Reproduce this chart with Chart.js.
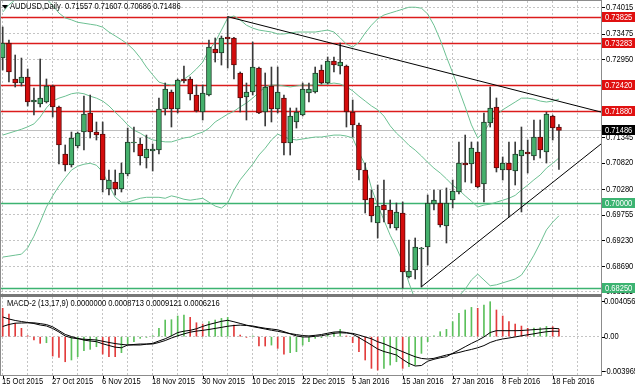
<!DOCTYPE html>
<html>
<head>
<meta charset="utf-8">
<script src="https://cdn.jsdelivr.net/npm/chart.js@4.4.0/dist/chart.umd.min.js"></script>
<style>
    html, body { margin: 0; padding: 0; background: #fff; }
    #wrap { position: relative; width: 635px; height: 391px; overflow: hidden; background: #fff; }
    #wrap canvas { position: absolute; left: 0; }
    #priceChart { top: 0; }
    #macdChart { top: 296px; }
</style>
</head>
<body>
<div id="wrap">
    <canvas id="priceChart" width="635" height="296"></canvas>
    <canvas id="macdChart" width="635" height="95"></canvas>
</div>
<script>
// AUDUSD daily bars, 15 Oct 2015 - 19 Feb 2016
const symbol = 'AUDUSD';
const timeframe = 'Daily';
const dates = [
    '15 Oct 2015', '16 Oct 2015', '19 Oct 2015', '20 Oct 2015', '21 Oct 2015', '22 Oct 2015', '23 Oct 2015', '26 Oct 2015', '27 Oct 2015', '28 Oct 2015',
    '29 Oct 2015', '30 Oct 2015', '2 Nov 2015', '3 Nov 2015', '4 Nov 2015', '5 Nov 2015', '6 Nov 2015', '9 Nov 2015', '10 Nov 2015', '11 Nov 2015',
    '12 Nov 2015', '13 Nov 2015', '16 Nov 2015', '17 Nov 2015', '18 Nov 2015', '19 Nov 2015', '20 Nov 2015', '23 Nov 2015', '24 Nov 2015', '25 Nov 2015',
    '26 Nov 2015', '27 Nov 2015', '30 Nov 2015', '1 Dec 2015', '2 Dec 2015', '3 Dec 2015', '4 Dec 2015', '7 Dec 2015', '8 Dec 2015', '9 Dec 2015',
    '10 Dec 2015', '11 Dec 2015', '14 Dec 2015', '15 Dec 2015', '16 Dec 2015', '17 Dec 2015', '18 Dec 2015', '21 Dec 2015', '22 Dec 2015', '23 Dec 2015',
    '24 Dec 2015', '28 Dec 2015', '29 Dec 2015', '30 Dec 2015', '31 Dec 2015', '4 Jan 2016', '5 Jan 2016', '6 Jan 2016', '7 Jan 2016', '8 Jan 2016',
    '11 Jan 2016', '12 Jan 2016', '13 Jan 2016', '14 Jan 2016', '15 Jan 2016', '18 Jan 2016', '19 Jan 2016', '20 Jan 2016', '21 Jan 2016', '22 Jan 2016',
    '25 Jan 2016', '26 Jan 2016', '27 Jan 2016', '28 Jan 2016', '29 Jan 2016', '1 Feb 2016', '2 Feb 2016', '3 Feb 2016', '4 Feb 2016', '5 Feb 2016',
    '8 Feb 2016', '9 Feb 2016', '10 Feb 2016', '11 Feb 2016', '12 Feb 2016', '15 Feb 2016', '16 Feb 2016', '17 Feb 2016', '18 Feb 2016', '19 Feb 2016'
];
const opens = [
    0.72975, 0.73284, 0.72544, 0.72461, 0.72585, 0.72071, 0.72030, 0.72071, 0.72399, 0.71968,
    0.71001, 0.70774, 0.71165, 0.71453, 0.71844, 0.71453, 0.71412, 0.70281, 0.70425, 0.70281,
    0.70590, 0.71227, 0.71207, 0.70918, 0.71063, 0.71083, 0.71927, 0.72276, 0.71927, 0.72544,
    0.72544, 0.72214, 0.71865, 0.72214, 0.73161, 0.73078, 0.73407, 0.73387, 0.72667, 0.72173,
    0.72276, 0.72769, 0.71865, 0.72399, 0.71927, 0.72153, 0.71227, 0.71659, 0.71803, 0.72255,
    0.72276, 0.72729, 0.72461, 0.72914, 0.72811, 0.72811, 0.71865, 0.71597, 0.70672, 0.70096,
    0.69581, 0.69951, 0.69849, 0.69479, 0.69787, 0.68471, 0.68615, 0.69047, 0.69088, 0.69973,
    0.69993, 0.69520, 0.70055, 0.70219, 0.70815, 0.70795, 0.71042, 0.70384, 0.71638, 0.71968,
    0.70672, 0.70815, 0.70651, 0.70959, 0.71042, 0.70959, 0.71350, 0.71042, 0.71783, 0.71557
];
const highs = [
    0.73613, 0.73346, 0.73037, 0.72975, 0.72749, 0.72358, 0.72955, 0.72544, 0.72420, 0.71988,
    0.71186, 0.71453, 0.71453, 0.72194, 0.72214, 0.71659, 0.71659, 0.70672, 0.70672, 0.70815,
    0.71535, 0.71556, 0.71330, 0.71391, 0.71207, 0.72153, 0.72461, 0.72317, 0.72544, 0.72811,
    0.72585, 0.72420, 0.72420, 0.73346, 0.73387, 0.73428, 0.73825, 0.73400, 0.72688, 0.72461,
    0.73305, 0.72790, 0.72667, 0.72790, 0.72790, 0.72214, 0.71947, 0.71947, 0.72461, 0.72461,
    0.72790, 0.72831, 0.72996, 0.72996, 0.73284, 0.72831, 0.72112, 0.71638, 0.70815, 0.70260,
    0.70363, 0.70466, 0.70055, 0.69993, 0.70014, 0.69232, 0.69273, 0.69080, 0.70157, 0.70260,
    0.70260, 0.70302, 0.70466, 0.71248, 0.71391, 0.71248, 0.71248, 0.71844, 0.72379, 0.72153,
    0.70939, 0.71248, 0.71248, 0.71556, 0.71289, 0.71700, 0.71700, 0.71860, 0.71800, 0.71607
];
const lows = [
    0.72729, 0.72482, 0.72379, 0.72399, 0.71988, 0.71803, 0.71968, 0.72050, 0.71762, 0.70795,
    0.70651, 0.70733, 0.71124, 0.71083, 0.71330, 0.71289, 0.70219, 0.70157, 0.70157, 0.70219,
    0.70549, 0.71042, 0.70774, 0.70713, 0.70651, 0.71001, 0.71803, 0.71556, 0.71844, 0.72461,
    0.72112, 0.71865, 0.71700, 0.72194, 0.72893, 0.72831, 0.72769, 0.72544, 0.71865, 0.71700,
    0.72214, 0.71830, 0.71577, 0.71659, 0.71844, 0.70980, 0.70980, 0.71535, 0.71783, 0.72071,
    0.72255, 0.72440, 0.72440, 0.72688, 0.72646, 0.71556, 0.71350, 0.70466, 0.69787, 0.69602,
    0.69273, 0.69602, 0.69479, 0.69437, 0.68244, 0.68450, 0.68430, 0.68265, 0.68717, 0.69849,
    0.69499, 0.69170, 0.69890, 0.70178, 0.70425, 0.70404, 0.70302, 0.70014, 0.71556, 0.70631,
    0.70466, 0.69705, 0.70363, 0.69808, 0.70610, 0.70877, 0.70918, 0.70815, 0.71289, 0.70686
];
const closes = [
    0.73284, 0.72688, 0.72461, 0.72585, 0.72071, 0.72112, 0.72153, 0.72399, 0.71968, 0.71186,
    0.70774, 0.71330, 0.71432, 0.71824, 0.71453, 0.71391, 0.70466, 0.70466, 0.70281, 0.70610,
    0.71248, 0.71248, 0.70959, 0.71104, 0.71104, 0.71927, 0.72338, 0.71927, 0.72523, 0.72502,
    0.72235, 0.71885, 0.72255, 0.73202, 0.73078, 0.73387, 0.73366, 0.72831, 0.72153, 0.72276,
    0.72790, 0.71844, 0.72379, 0.71927, 0.72276, 0.71227, 0.71783, 0.71865, 0.72338, 0.72338,
    0.72667, 0.72461, 0.72914, 0.72831, 0.72893, 0.71865, 0.71597, 0.70672, 0.70055, 0.69725,
    0.69931, 0.69849, 0.69561, 0.69808, 0.68574, 0.68594, 0.69088, 0.69067, 0.69993, 0.70055,
    0.69540, 0.69993, 0.70240, 0.70815, 0.70774, 0.71124, 0.70322, 0.71659, 0.71947, 0.70713,
    0.70815, 0.70672, 0.71001, 0.71083, 0.71001, 0.71350, 0.71083, 0.71824, 0.71535, 0.71486
];

// Bollinger bands
const bbUpper = [
    0.7392, 0.7407, 0.7417, 0.7423, 0.7427, 0.7427, 0.7423, 0.7419, 0.7406, 0.7390,
    0.7380, 0.7376, 0.7371, 0.7369, 0.7367, 0.7365, 0.7361, 0.7351, 0.7343, 0.7335,
    0.7326, 0.7314, 0.7298, 0.7279, 0.7263, 0.7248, 0.7244, 0.7242, 0.7244, 0.7254,
    0.7263, 0.7275, 0.7289, 0.7314, 0.7330, 0.7355, 0.7380, 0.7384, 0.7376, 0.7365,
    0.7359, 0.7355, 0.7353, 0.7351, 0.7347, 0.7347, 0.7349, 0.7351, 0.7351, 0.7351,
    0.7351, 0.7353, 0.7355, 0.7351, 0.7339, 0.7326, 0.7320, 0.7330, 0.7349, 0.7365,
    0.7378, 0.7386, 0.7390, 0.7394, 0.7398, 0.7402, 0.7402, 0.7400, 0.7388, 0.7365,
    0.7335, 0.7300, 0.7267, 0.7232, 0.7197, 0.7160, 0.7133, 0.7145, 0.7166, 0.7180,
    0.7191, 0.7199, 0.7207, 0.7215, 0.7215, 0.7213, 0.7209, 0.7207, 0.7209, 0.7213
];
const bbMiddle = [
    0.7139, 0.7143, 0.7147, 0.7151, 0.7156, 0.7162, 0.7176, 0.7195, 0.7209, 0.7215,
    0.7219, 0.7224, 0.7226, 0.7224, 0.7219, 0.7215, 0.7209, 0.7199, 0.7186, 0.7174,
    0.7160, 0.7149, 0.7143, 0.7135, 0.7129, 0.7127, 0.7125, 0.7125, 0.7129, 0.7133,
    0.7135, 0.7141, 0.7145, 0.7153, 0.7166, 0.7174, 0.7182, 0.7188, 0.7197, 0.7205,
    0.7215, 0.7227, 0.7238, 0.7242, 0.7242, 0.7240, 0.7238, 0.7240, 0.7242, 0.7242,
    0.7242, 0.7244, 0.7244, 0.7246, 0.7244, 0.7238, 0.7230, 0.7219, 0.7209, 0.7199,
    0.7191, 0.7178, 0.7158, 0.7143, 0.7131, 0.7118, 0.7108, 0.7096, 0.7083, 0.7071,
    0.7061, 0.7049, 0.7036, 0.7026, 0.7014, 0.7003, 0.6991, 0.6995, 0.6997, 0.7001,
    0.7005, 0.7009, 0.7015, 0.7026, 0.7036, 0.7047, 0.7057, 0.7071, 0.7081, 0.7092
];
const bbLower = [
    0.6888, 0.6890, 0.6892, 0.6894, 0.6907, 0.6931, 0.6960, 0.6991, 0.7014, 0.7034,
    0.7051, 0.7067, 0.7075, 0.7079, 0.7081, 0.7077, 0.7063, 0.7036, 0.7011, 0.7001,
    0.7001, 0.7005, 0.7009, 0.7011, 0.7011, 0.7011, 0.7009, 0.7014, 0.7011, 0.7007,
    0.7005, 0.7007, 0.7009, 0.7001, 0.6993, 0.6989, 0.6999, 0.7026, 0.7047, 0.7063,
    0.7079, 0.7098, 0.7112, 0.7129, 0.7141, 0.7135, 0.7131, 0.7129, 0.7131, 0.7133,
    0.7135, 0.7135, 0.7137, 0.7139, 0.7139, 0.7137, 0.7133, 0.7104, 0.7077, 0.7030,
    0.6995, 0.6964, 0.6933, 0.6907, 0.6878, 0.6835, 0.6800, 0.6791, 0.6779, 0.6775,
    0.6779, 0.6791, 0.6800, 0.6808, 0.6822, 0.6841, 0.6853, 0.6841, 0.6829, 0.6831,
    0.6835, 0.6839, 0.6843, 0.6851, 0.6870, 0.6892, 0.6917, 0.6944, 0.6960, 0.6973
];

// MACD-2 (13,17,9)
const macdHist = [
    0.00325, 0.00260, 0.00153, 0.00096, 0.00011, -0.00038, -0.00076, -0.00069, -0.00222, -0.00237,
    -0.00287, -0.00267, -0.00229, -0.00160, -0.00145, -0.00115, -0.00199, -0.00229, -0.00229, -0.00183,
    -0.00084, -0.00057, -0.00019, -0.00008, 0.00011, 0.00096, 0.00191, 0.00195, 0.00237, 0.00248,
    0.00222, 0.00160, 0.00145, 0.00172, 0.00191, 0.00210, 0.00222, 0.00134, 0.00019, -0.00008,
    0.00008, -0.00107, -0.00107, -0.00096, -0.00134, -0.00199, -0.00183, -0.00172, -0.00096, -0.00057,
    -0.00019, -0.00011, 0.00031, 0.00046, 0.00084, 0.00008, -0.00069, -0.00172, -0.00267, -0.00363,
    -0.00382, -0.00363, -0.00325, -0.00287, -0.00363, -0.00344, -0.00325, -0.00191, -0.00057, 0.00011,
    0.00057, 0.00084, 0.00172, 0.00267, 0.00306, 0.00336, 0.00325, 0.00363, 0.00401, 0.00306,
    0.00237, 0.00172, 0.00145, 0.00122, 0.00096, 0.00099, 0.00103, 0.00118, 0.00115, 0.0008713
];
const macdMain = [
    0.00226, 0.00203, 0.00186, 0.00174, 0.00163, 0.00151, 0.00134, 0.00123, 0.00094, 0.00054,
    0.00008, -0.00013, -0.00023, -0.00029, -0.00033, -0.00038, -0.00052, -0.00066, -0.00079, -0.00088,
    -0.00095, -0.00095, -0.00095, -0.00086, -0.00076, -0.00049, -0.00024, 0.00010, 0.00047, 0.00063,
    0.00073, 0.00091, 0.00118, 0.00140, 0.00158, 0.00176, 0.00188, 0.00171, 0.00152, 0.00133,
    0.00115, 0.00102, 0.00088, 0.00074, 0.00062, 0.00048, 0.00036, 0.00024, 0.00013, 0.00009,
    0.00016, 0.00025, 0.00040, 0.00053, 0.00057, 0.00048, 0.00029, -0.00010, -0.00052, -0.00095,
    -0.00141, -0.00170, -0.00189, -0.00210, -0.00261, -0.00306, -0.00336, -0.00330, -0.00281, -0.00259,
    -0.00242, -0.00229, -0.00190, -0.00154, -0.00115, -0.00077, -0.00042, -0.00003, 0.00048, 0.00069,
    0.00069, 0.00069, 0.00069, 0.00071, 0.00076, 0.00081, 0.00086, 0.00092, 0.00096, 0.0009121
];
const macdSignal = [
    0.00117, 0.00140, 0.00155, 0.00157, 0.00159, 0.00159, 0.00150, 0.00139, 0.00113, 0.00070,
    0.00026, 0.00002, -0.00019, -0.00039, -0.00049, -0.00057, -0.00081, -0.00101, -0.00120, -0.00127,
    -0.00095, -0.00089, -0.00084, -0.00084, -0.00084, -0.00066, -0.00044, -0.00015, 0.00010, 0.00032,
    0.00052, 0.00064, 0.00073, 0.00083, 0.00095, 0.00107, 0.00120, 0.00128, 0.00133, 0.00128,
    0.00123, 0.00109, 0.00097, 0.00088, 0.00079, 0.00058, 0.00032, 0.00009, -0.00003, -0.00003,
    0.00005, 0.00011, 0.00025, 0.00038, 0.00045, 0.00042, 0.00038, 0.00019, -0.00003, -0.00024,
    -0.00058, -0.00081, -0.00111, -0.00143, -0.00172, -0.00202, -0.00230, -0.00249, -0.00256, -0.00248,
    -0.00229, -0.00210, -0.00195, -0.00181, -0.00162, -0.00146, -0.00127, -0.00102, -0.00066, -0.00042,
    -0.00026, -0.00015, -0.00003, 0.00010, 0.00022, 0.00033, 0.00046, 0.00057, 0.00063, 0.0006216
];

// levels, trend lines and scale labels
const redLevels = [0.73825, 0.73283, 0.72420, 0.71880];
const greenLevels = [0.70000, 0.68250];
const trendDown = [{bar: 36, price: 0.73825}, {bar: 89, price: 0.72085}];
const trendUp = [{bar: 67, price: 0.68271}, {bar: 89, price: 0.70519}];
const priceTicks = [0.74015, 0.73475, 0.72950, 0.72420, 0.71880, 0.71345, 0.70820, 0.70280, 0.69755, 0.69230, 0.68690, 0.68165];
const macdTicks = [0.004056, 0, -0.003965];
const gridEvery = 4;
const labelEvery = 8;

const GRID = '#c4c4c4';
const FRAME = '#8c8c8c';
const RED = '#dc1c1c';
const GREEN = '#3cb371';
const BAND = '#6cc092';
const FONT = '9px "Liberation Sans", Arial, sans-serif';
const SQUEEZE = 0.84;
const X_MIN = -0.27;
const X_MAX = 95.73;

function drawText(ctx, text, x, y, color) {
    ctx.save();
    ctx.font = FONT;
    ctx.textBaseline = 'middle';
    ctx.textAlign = 'left';
    ctx.fillStyle = color;
    ctx.translate(x, y);
    ctx.scale(SQUEEZE, 1);
    ctx.fillText(text, 0, 0);
    ctx.restore();
}

function drawTag(ctx, area, py, text, bg, width) {
    ctx.fillStyle = bg;
    ctx.fillRect(area.right + 1, Math.round(py) - 5, width - area.right - 1, 10);
    drawText(ctx, text, area.right + 4, py + 0.5, '#fff');
}

function barTicks(scale) {
    scale.ticks = dates.map((d, i) => i).concat([90, 91, 92, 93, 94, 95])
        .filter(i => i % gridEvery === 0)
        .map(i => ({value: i}));
}

const upBar = i => closes[i] >= opens[i];

const priceOverlay = {
    id: 'priceOverlay',
    beforeDatasetsDraw(chart) {
        const {ctx, chartArea: a, scales: {y}} = chart;
        ctx.save();
        ctx.setLineDash([]);
        const hline = (v, color, w) => {
            const py = Math.round(y.getPixelForValue(v)) + 0.5;
            ctx.strokeStyle = color;
            ctx.lineWidth = w;
            ctx.beginPath();
            ctx.moveTo(a.left, py);
            ctx.lineTo(a.right, py);
            ctx.stroke();
        };
        hline(closes[closes.length - 1], '#c0c0c0', 1);
        redLevels.forEach(v => hline(v, RED, 1.4));
        greenLevels.forEach(v => hline(v, GREEN, 1.4));
        ctx.restore();
    },
    afterDatasetsDraw(chart) {
        const {ctx, chartArea: a, scales: {x, y}} = chart;
        ctx.save();
        ctx.beginPath();
        ctx.rect(a.left, a.top, a.right - a.left, a.bottom - a.top);
        ctx.clip();
        ctx.setLineDash([]);
        ctx.strokeStyle = '#000';
        ctx.lineWidth = 1;
        [trendDown, trendUp].forEach(t => {
            const x0 = x.getPixelForValue(t[0].bar), y0 = y.getPixelForValue(t[0].price);
            const x1 = x.getPixelForValue(t[1].bar), y1 = y.getPixelForValue(t[1].price);
            const yEnd = y0 + (y1 - y0) * (a.right - x0) / (x1 - x0);
            ctx.beginPath();
            ctx.moveTo(x0, y0);
            ctx.lineTo(a.right, yEnd);
            ctx.stroke();
        });
        ctx.restore();
    },
    afterDraw(chart) {
        const {ctx, chartArea: a, scales: {y}, width} = chart;
        const last = closes.length - 1;
        ctx.save();
        ctx.setLineDash([]);
        ctx.strokeStyle = FRAME;
        ctx.lineWidth = 1;
        ctx.strokeRect(a.left - 0.5, a.top - 0.5, a.right - a.left + 1, a.bottom - a.top + 1);
        ctx.fillStyle = '#777';
        ctx.fillRect(0, a.bottom, a.right + 1, 2);

        priceTicks.forEach(v => {
            const py = y.getPixelForValue(v);
            ctx.fillStyle = '#000';
            ctx.fillRect(a.right + 1, Math.round(py), 3, 1);
            drawText(ctx, v.toFixed(5), a.right + 5, py, '#000');
        });
        redLevels.forEach(v => drawTag(ctx, a, y.getPixelForValue(v), v.toFixed(5), '#e01010', width));
        greenLevels.forEach(v => drawTag(ctx, a, y.getPixelForValue(v), v.toFixed(5), GREEN, width));
        drawTag(ctx, a, y.getPixelForValue(closes[last]), closes[last].toFixed(5), '#000', width);

        ctx.fillStyle = '#000';
        ctx.beginPath();
        ctx.moveTo(2, 5);
        ctx.lineTo(8, 5);
        ctx.lineTo(5, 9);
        ctx.closePath();
        ctx.fill();
        const ohlc = [opens[last], highs[last], lows[last], closes[last]].map(v => v.toFixed(5)).join(' ');
        drawText(ctx, symbol + ',' + timeframe + '  ' + ohlc, 10, 7, '#000');
        ctx.restore();
    }
};

const macdOverlay = {
    id: 'macdOverlay',
    afterDraw(chart) {
        const {ctx, chartArea: a, scales: {x, y}} = chart;
        const last = macdHist.length - 1;
        ctx.save();
        ctx.setLineDash([]);
        ctx.strokeStyle = FRAME;
        ctx.lineWidth = 1;
        ctx.strokeRect(a.left - 0.5, a.top - 0.5, a.right - a.left + 1, a.bottom - a.top + 1);
        ctx.fillStyle = '#777';
        ctx.fillRect(0, 0, a.right + 1, 1);

        macdTicks.forEach(v => {
            const py = y.getPixelForValue(v);
            ctx.fillStyle = '#000';
            ctx.fillRect(a.right + 1, Math.round(py), 3, 1);
            drawText(ctx, v === 0 ? '0.00' : v.toFixed(6), a.right + 3, py, '#000');
        });

        dates.forEach((d, i) => {
            if (i % labelEvery !== 0) return;
            const px = Math.round(x.getPixelForValue(i));
            ctx.fillStyle = '#000';
            ctx.fillRect(px, a.bottom + 1, 1, 3);
            drawText(ctx, d, px - 1, a.bottom + 7, '#000');
        });

        const rising = macdHist[last] > macdHist[last - 1];
        const vals = [rising ? macdHist[last] : 0, rising ? 0 : macdHist[last], macdMain[last], macdSignal[last]];
        drawText(ctx, 'MACD-2 (13,17,9) ' + vals.map(v => v.toFixed(7)).join(' '), 7, 8, '#000');
        ctx.restore();
    }
};

const xAxis = {
    type: 'linear',
    min: X_MIN,
    max: X_MAX,
    offset: false,
    bounds: 'data',
    afterBuildTicks: barTicks,
    afterFit: s => { s.height = 0; },
    ticks: {display: false},
    grid: {color: GRID, drawTicks: false, offset: false},
    border: {display: false, dash: [2, 2]}
};

const priceConfig = {
    type: 'bar',
    data: {
        datasets: [
            {type: 'line', data: dates.map((d, i) => ({x: i, y: bbUpper[i]})), borderColor: BAND, borderWidth: 1, pointRadius: 0, order: 3},
            {type: 'line', data: dates.map((d, i) => ({x: i, y: bbMiddle[i]})), borderColor: BAND, borderWidth: 1, pointRadius: 0, order: 3},
            {type: 'line', data: dates.map((d, i) => ({x: i, y: bbLower[i]})), borderColor: BAND, borderWidth: 1, pointRadius: 0, order: 3},
            {
                label: 'wicks',
                data: dates.map((d, i) => ({x: i, y: [lows[i], highs[i]]})),
                backgroundColor: '#3a3a3a',
                barThickness: 1,
                grouped: false,
                order: 2
            },
            {
                label: 'bodies',
                data: dates.map((d, i) => ({x: i, y: [opens[i], closes[i]]})),
                backgroundColor: dates.map((d, i) => upBar(i) ? '#45b06c' : '#d40c0c'),
                borderColor: dates.map((d, i) => upBar(i) ? '#1e3d28' : '#5a0b0b'),
                borderWidth: 1,
                borderSkipped: false,
                minBarLength: 1,
                barThickness: 5,
                grouped: false,
                order: 1
            }
        ]
    },
    options: {
        responsive: false,
        devicePixelRatio: 1,
        animation: false,
        events: [],
        layout: {padding: {left: 1, top: 1, right: 0, bottom: 2}},
        plugins: {legend: {display: false}, tooltip: {enabled: false}},
        scales: {
            x: xAxis,
            y: {
                type: 'linear',
                position: 'right',
                min: 0.68121,
                max: 0.74148,
                bounds: 'data',
                afterBuildTicks: s => { s.ticks = priceTicks.map(v => ({value: v})); },
                afterFit: s => { s.width = 34; },
                ticks: {display: false},
                grid: {color: GRID, drawTicks: false},
                border: {display: false, dash: [2, 2]}
            }
        }
    },
    plugins: [priceOverlay]
};

const macdConfig = {
    type: 'bar',
    data: {
        datasets: [
            {type: 'line', data: dates.map((d, i) => ({x: i, y: macdMain[i]})), borderColor: '#000', borderWidth: 1, pointRadius: 0, order: 1},
            {type: 'line', data: dates.map((d, i) => ({x: i, y: macdSignal[i]})), borderColor: '#000', borderWidth: 1, pointRadius: 0, order: 1},
            {
                label: 'histogram',
                data: dates.map((d, i) => ({x: i, y: macdHist[i]})),
                backgroundColor: macdHist.map((v, i) => i > 0 && v > macdHist[i - 1] ? '#5cc05c' : '#e23c3c'),
                barThickness: 1,
                grouped: false,
                order: 2
            }
        ]
    },
    options: {
        responsive: false,
        devicePixelRatio: 1,
        animation: false,
        events: [],
        layout: {padding: {left: 1, top: 1, right: 0, bottom: 16}},
        plugins: {legend: {display: false}, tooltip: {enabled: false}},
        scales: {
            x: xAxis,
            y: {
                type: 'linear',
                position: 'right',
                min: -0.00439,
                max: 0.00455,
                bounds: 'data',
                afterBuildTicks: s => { s.ticks = [{value: 0}]; },
                afterFit: s => { s.width = 34; },
                ticks: {display: false},
                grid: {color: GRID, drawTicks: false},
                border: {display: false, dash: [2, 2]}
            }
        }
    },
    plugins: [macdOverlay]
};

var priceChart = new Chart(document.getElementById('priceChart'), priceConfig);
var macdChart = new Chart(document.getElementById('macdChart'), macdConfig);
</script>
</body>
</html>
